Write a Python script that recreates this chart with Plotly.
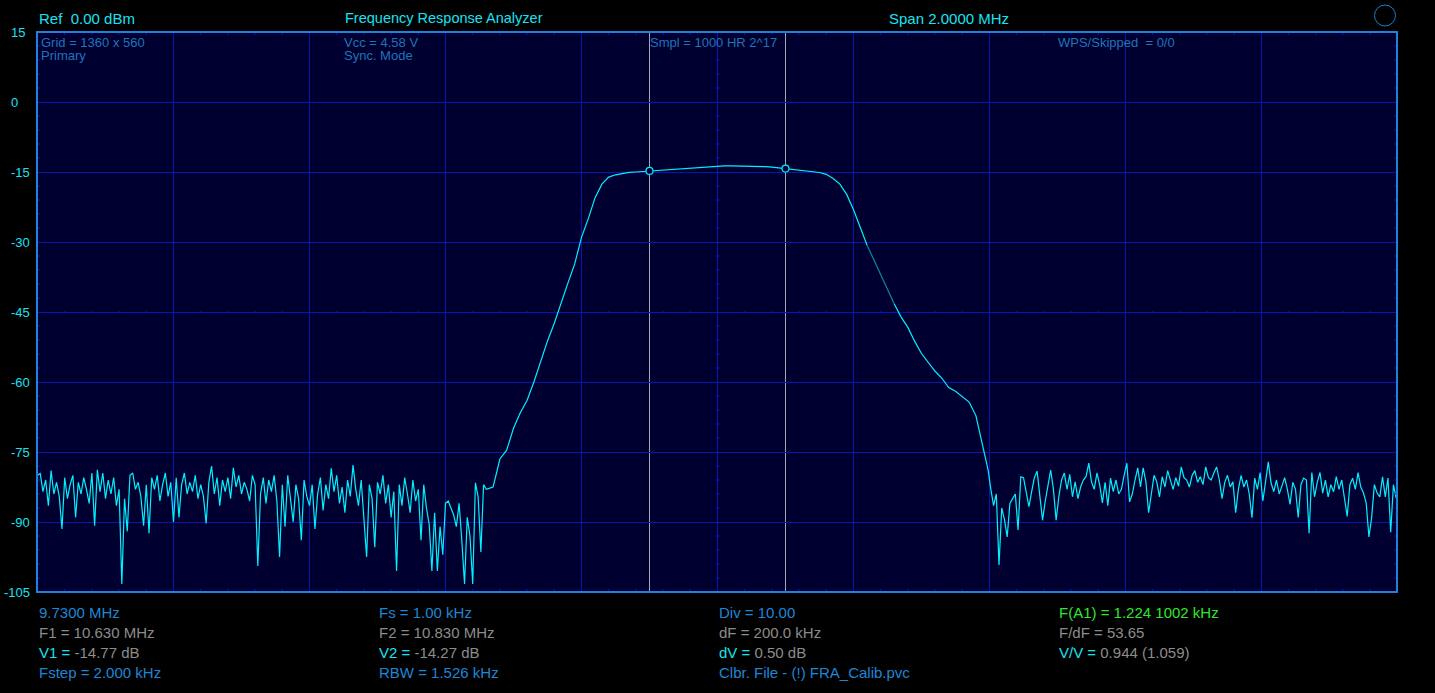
import plotly.graph_objects as go

# ---------------- data ----------------
F_START = 9.73      # MHz
F_SPAN = 2.0        # MHz
Y_MIN, Y_MAX = -105, 15
Y_TICKS = [15, 0, -15, -30, -45, -60, -75, -90, -105]

# left noise floor, 4 kHz steps from 9.730 MHz
LEFT_START, LEFT_STEP = 9.730, 0.004
left_db = [
    -80.0, -79.6, -83.5, -81.0, -86.5, -79.0, -84.0, -81.5, -84.5, -91.5,
    -80.5, -85.0, -82.0, -80.0, -89.0, -81.5, -84.0, -80.5, -83.0, -86.0,
    -79.5, -90.8, -78.8, -83.5, -79.5, -85.0, -81.0, -84.0, -80.5, -86.5,
    -83.0, -103.3, -85.0, -92.0, -80.0, -79.5, -83.0, -81.5, -84.5, -90.8,
    -82.0, -92.4, -80.5, -83.0, -80.0, -85.5, -82.0, -79.5, -84.5, -81.5,
    -90.0, -80.5, -89.0, -82.0, -79.5, -84.0, -81.5, -83.5, -80.0, -85.0,
    -82.0, -84.5, -90.3, -81.5, -78.0, -84.0, -80.5, -86.5, -81.0, -83.5,
    -80.5, -85.0, -78.4, -82.5, -80.0, -84.0, -81.5, -83.0, -85.5, -80.0,
    -82.0, -99.4, -84.0, -80.5, -86.0, -81.0, -83.5, -80.0, -85.5, -97.5,
    -82.0, -91.0, -80.0, -84.5, -90.0, -82.0, -85.0, -93.9, -81.0, -84.5,
    -86.5, -82.0, -91.5, -84.0, -80.5, -87.5, -82.0, -85.0, -78.5, -83.5,
    -80.0, -86.0, -82.5, -88.0, -81.0, -84.5, -77.8, -83.0, -86.5, -81.0,
    -88.5, -97.5, -82.0, -85.0, -95.4, -81.5, -84.0, -80.0, -86.0, -82.0,
    -89.0, -83.5, -100.5, -82.0, -86.5, -80.5, -84.0, -88.0, -81.0, -85.5,
    -83.0, -93.9, -82.0, -87.0, -90.5, -100.5, -88.0, -100.5, -91.0, -97.0,
    -86.0, -85.5, -87.0, -88.5, -91.0, -86.0, -94.0, -103.3, -89.0, -93.0,
    -103.3, -81.6, -84.6, -96.4, -82.0,
]

# filter response, 10 kHz steps from 10.390 MHz
MID_START, MID_STEP = 10.390, 0.010
mid_db = [
    -83.0, -82.5, -76.5, -74.6, -69.9, -66.6, -63.9, -60.0, -55.7, -51.2,
    -47.4, -42.9, -38.8, -34.7, -29.0, -25.0, -20.5, -17.6, -16.1, -15.6,
    -15.3, -15.1, -15.0, -14.9, -14.77, -14.65, -14.55, -14.45, -14.3, -14.15,
    -14.05, -13.95, -13.85, -13.75, -13.7, -13.7, -13.7, -13.7, -13.7, -13.75,
    -13.8, -13.85, -13.95, -14.1, -14.27, -14.4, -14.55, -14.7, -14.9, -15.1,
    -15.5, -16.4, -17.6, -19.8, -23.1, -27.0, -30.7, -33.8, -37.0, -40.2,
    -43.3, -46.1, -48.3, -51.3, -53.9, -55.8, -57.7, -59.2, -61.2, -62.0,
    -63.1, -64.3, -67.2, -73.9,
]

# right noise floor, 4 kHz steps from 11.124 MHz
RIGHT_START, RIGHT_STEP = 11.124, 0.004
right_db = [
    -76.7, -78.9, -83.0, -86.5, -84.0, -99.2, -87.0, -89.5, -93.2, -86.0,
    -85.0, -84.0, -91.7, -80.3, -80.5, -84.0, -86.7, -83.5, -80.5, -79.1,
    -84.0, -89.6, -85.5, -82.0, -78.9, -83.0, -89.6, -84.5, -81.0, -79.5,
    -83.0, -79.8, -84.6, -81.4, -85.0, -82.5, -81.0, -80.3, -77.4, -81.4,
    -83.0, -79.5, -82.0, -85.9, -81.5, -86.5, -80.6, -83.5, -81.0, -84.0,
    -83.0, -80.0, -77.4, -85.7, -84.0, -81.0, -78.4, -82.5, -78.4, -81.4,
    -88.0, -84.0, -80.0, -81.4, -84.6, -80.3, -82.5, -79.0, -81.0, -83.0,
    -80.5, -82.3, -78.2, -80.5, -81.0, -82.5, -80.0, -79.0, -81.5, -80.3,
    -82.0, -78.2, -80.5, -81.0, -79.5, -78.2, -81.0, -85.0, -81.5, -80.0,
    -82.5, -81.4, -88.0, -83.0, -80.0, -82.5, -81.0, -84.0, -89.1, -80.6,
    -83.0, -79.4, -85.5, -81.0, -77.1, -81.6, -83.5, -81.0, -84.0, -82.3,
    -80.5, -83.0, -86.2, -81.5, -83.0, -89.0, -82.0, -80.6, -81.0, -92.4,
    -79.4, -84.6, -81.5, -79.4, -83.8, -81.0, -84.6, -82.0, -83.5, -80.3,
    -83.0, -81.0, -84.5, -88.8, -82.0, -80.6, -83.0, -79.4, -82.5, -83.8,
    -86.0, -93.2, -89.0, -82.0, -83.8, -84.6, -80.3, -84.6, -80.6, -92.2,
    -82.0, -84.9,
]

CURSOR_F = [10.630, 10.830]
CURSOR_V = [-14.77, -14.27]
DIM_RANGE = (10.95, 10.99)

# ---------------- build series ----------------
freq, level = [], []
for start, step, vals in ((LEFT_START, LEFT_STEP, left_db),
                          (MID_START, MID_STEP, mid_db),
                          (RIGHT_START, RIGHT_STEP, right_db)):
    for i, v in enumerate(vals):
        freq.append(round(start + i * step, 4))
        level.append(v)

seg_a = [(f, v) for f, v in zip(freq, level) if f <= DIM_RANGE[0]]
seg_b = [(f, v) for f, v in zip(freq, level) if DIM_RANGE[0] <= f <= DIM_RANGE[1]]
seg_c = [(f, v) for f, v in zip(freq, level) if f >= DIM_RANGE[1]]

# ---------------- styles ----------------
W, H = 1435, 693
ML, MR, MT, MB = 37, 38, 32, 101
PW, PH = W - ML - MR, H - MT - MB
HALF_PX = 0.5 * F_SPAN / PW      # shift so 1px lines land on pixel centres
BG_PLOT = "#000030"
GRID = "#0a14b0"
FRAME = "#1e80e0"
TRACE = "#00f0ff"
TRACE_DIM = "#0a8a9c"
CYAN = "#19e2f2"
BLUE_TXT = "#1f86d6"
INNER_TXT = "#1f74bc"
GRAY = "#8c8c8c"
GREEN = "#2fe62f"
CURSOR = "#a4a4b4"
FONT = "Liberation Sans"


def px(x):
    return (x - ML) / PW


def py(y):
    return (MT + PH - y) / PH


fig = go.Figure()
for seg, col in ((seg_a, TRACE), (seg_b, TRACE_DIM), (seg_c, TRACE)):
    fig.add_trace(go.Scatter(
        x=[p[0] for p in seg], y=[p[1] for p in seg], mode="lines",
        line=dict(color=col, width=1.2), hoverinfo="skip", showlegend=False))

fig.add_trace(go.Scatter(
    x=CURSOR_F, y=CURSOR_V, mode="markers",
    marker=dict(symbol="circle", size=7, color=BG_PLOT,
                line=dict(color=TRACE, width=1.2)),
    hoverinfo="skip", showlegend=False))

xdiv = F_SPAN / 10
ydiv = (Y_MAX - Y_MIN) / 8

shapes = []
# vertical major grid lines
for k in range(1, 10):
    f = F_START + k * xdiv
    shapes.append(dict(type="line", xref="x", yref="paper", x0=f, x1=f, y0=0, y1=1,
                       line=dict(color=GRID, width=1), layer="between"))
# cursor lines
for f in CURSOR_F:
    shapes.append(dict(type="line", xref="x", yref="paper", x0=f, x1=f, y0=0, y1=1,
                       line=dict(color=CURSOR, width=1), layer="between"))

# minor ticks on frame edges and centre cross
tick_x = 3 / PW
tick_y = 3 / PH
for k in range(1, 50):
    if k % 5 == 0:
        continue
    f = F_START + k * xdiv / 5
    shapes.append(dict(type="line", xref="x", yref="paper", x0=f, x1=f, y0=1, y1=1 - tick_y,
                       line=dict(color=GRID, width=1)))
    shapes.append(dict(type="line", xref="x", yref="paper", x0=f, x1=f, y0=0, y1=tick_y,
                       line=dict(color=GRID, width=1)))
    shapes.append(dict(type="line", xref="x", yref="y", x0=f, x1=f,
                       y0=-45 - 0.25, y1=-45 + 0.25, line=dict(color=GRID, width=1)))
for k in range(1, 40):
    if k % 5 == 0:
        continue
    v = Y_MIN + k * ydiv / 5
    shapes.append(dict(type="line", xref="paper", yref="y", x0=0, x1=tick_x, y0=v, y1=v,
                       line=dict(color=GRID, width=1)))
    shapes.append(dict(type="line", xref="paper", yref="y", x0=1, x1=1 - tick_x, y0=v, y1=v,
                       line=dict(color=GRID, width=1)))
    shapes.append(dict(type="line", xref="x", yref="y", x0=F_START + 5 * xdiv - 0.003,
                       x1=F_START + 5 * xdiv + 0.003, y0=v, y1=v,
                       line=dict(color=GRID, width=1)))

# frame
shapes.append(dict(type="rect", xref="paper", yref="paper", x0=0, x1=1, y0=0, y1=1,
                   line=dict(color=FRAME, width=2), layer="above"))
# top-right circle
shapes.append(dict(type="circle", xref="paper", yref="paper",
                   x0=px(1374.5), x1=px(1395.5), y0=py(26), y1=py(5),
                   line=dict(color="#1a7fd0", width=1)))

ann = []


def txt(text, x, y, color, size=15, anchor="left"):
    ann.append(dict(text=text, x=px(x), y=py(y), xref="paper", yref="paper",
                    xanchor=anchor, yanchor="middle", showarrow=False,
                    font=dict(family=FONT, size=size, color=color)))


def span(text, color):
    return f'<span style="color:{color}">{text}</span>'


# header
txt("Ref\u00a0 0.00 dBm", 37, 18, CYAN)
txt("Frequency Response Analyzer", 343, 18, CYAN, 14.5)
txt("Span 2.0000 MHz", 887, 18, CYAN)

# inner labels
txt("Grid = 1360 x 560", 39, 42, INNER_TXT, 13)
txt("Primary", 39, 56, INNER_TXT, 13)
txt("Vcc = 4.58 V", 342, 42, INNER_TXT, 13)
txt("Sync. Mode", 342, 56, INNER_TXT, 13)
txt("Smpl = 1000 HR 2^17", 648, 42, INNER_TXT, 13)
txt("WPS/Skipped\u00a0 = 0/0", 1056, 42, INNER_TXT, 13)

# y tick labels
for t in Y_TICKS:
    ann.append(dict(text=str(t), x=px(2 if t == -105 else 9), y=t, xref="paper", yref="y",
                    xanchor="left", yanchor="middle", showarrow=False,
                    font=dict(family=FONT, size=13, color=CYAN)))

# bottom readouts
cols = [37, 377, 717, 1057]
rows = [612, 632, 652, 672]
txt("9.7300 MHz", cols[0], rows[0], BLUE_TXT)
txt("F1 = 10.630 MHz", cols[0], rows[1], GRAY)
txt(span("V1 =", CYAN) + " -14.77 dB", cols[0], rows[2], GRAY)
txt("Fstep = 2.000 kHz", cols[0], rows[3], BLUE_TXT)

txt("Fs = 1.00 kHz", cols[1], rows[0], BLUE_TXT)
txt("F2 = 10.830 MHz", cols[1], rows[1], GRAY)
txt(span("V2 =", CYAN) + " -14.27 dB", cols[1], rows[2], GRAY)
txt("RBW = 1.526 kHz", cols[1], rows[3], BLUE_TXT)

txt("Div = 10.00", cols[2], rows[0], BLUE_TXT)
txt("dF = 200.0 kHz", cols[2], rows[1], GRAY)
txt(span("dV =", CYAN) + " 0.50 dB", cols[2], rows[2], GRAY)
txt("Clbr. File - (!) FRA_Calib.pvc", cols[2], rows[3], BLUE_TXT)

txt("F(A1) = 1.224 1002 kHz", cols[3], rows[0], GREEN)
txt("F/dF = 53.65", cols[3], rows[1], GRAY)
txt(span("V/V =", CYAN) + " 0.944 (1.059)", cols[3], rows[2], GRAY)

fig.update_layout(
    width=W, height=H,
    margin=dict(l=ML, r=MR, t=MT, b=MB, pad=0),
    paper_bgcolor="#000000", plot_bgcolor=BG_PLOT,
    shapes=shapes, annotations=ann, showlegend=False,
    xaxis=dict(range=[F_START - HALF_PX, F_START + F_SPAN - HALF_PX],
               showgrid=False, zeroline=False,
               showticklabels=False, ticks="", showline=False, fixedrange=True),
    yaxis=dict(range=[Y_MIN, Y_MAX], dtick=ydiv, tick0=Y_MIN,
               showgrid=True, gridcolor=GRID, gridwidth=1, zeroline=False,
               showticklabels=False, ticks="", showline=False, fixedrange=True),
)

fig.write_html(
    "out.html",
    config={"displayModeBar": False},
    post_script="document.body.style.margin='0';document.body.style.background='#000';",
)
